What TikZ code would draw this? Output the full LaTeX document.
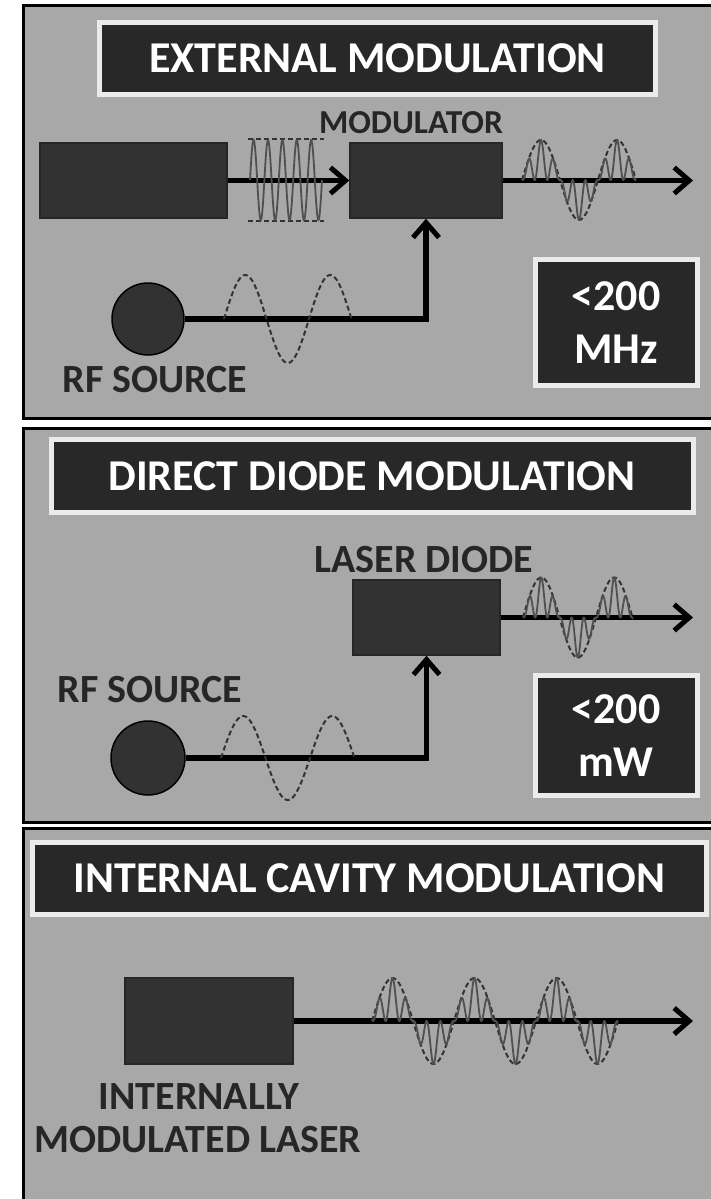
\documentclass[tikz,border=0pt]{standalone}
\usepackage{fontspec}
\setmainfont{Carlito}
\usetikzlibrary{arrows.meta}
\definecolor{panelgray}{RGB}{168,168,168}
\definecolor{boxgray}{RGB}{50,50,50}
\definecolor{wavegray}{RGB}{80,80,80}

\begin{document}
\begin{tikzpicture}[x=1pt,y=-1pt,
  >={Straight Barb[length=15pt,width=26pt,line width=5pt]},
  panel/.style={draw=black,line width=3pt,fill=panelgray},
  ttl/.style={draw=white!92!black,line width=5pt,fill=boxgray!80!black,text=white,
    font=\bfseries\fontsize{44}{48}\selectfont,inner sep=0pt},
  blk/.style={draw=black!85,line width=1.5pt,fill=boxgray,inner sep=0pt},
  src/.style={circle,draw=black,line width=1.5pt,fill=boxgray,minimum size=72pt,inner sep=0pt},
  lbl/.style={text=black!85,font=\bfseries\fontsize{40}{42}\selectfont,inner sep=0pt},
  val/.style={draw=white!92!black,line width=5pt,fill=boxgray!80!black,text=white,
    font=\bfseries\fontsize{44}{53}\selectfont,align=center,inner sep=0pt},
  sig/.style={line width=5.5pt,black},
  env/.style={dash pattern=on 5pt off 3pt,line width=2pt,black!80},
  car/.style={line width=1.8pt,wavegray}]

  \useasboundingbox (0,0) rectangle (711,1199);
  \clip (0,0) rectangle (711,1199);
  \fill[white] (0,0) rectangle (711,1199);

  \draw[panel] (23,6) rectangle (730,418);
  \draw[panel] (23,428) rectangle (730,822);
  \draw[panel] (23,828) rectangle (730,1230);

  \begin{scope}
    \node[ttl,minimum width=556pt,minimum height=72pt] (t1) at (377.5,58.5) {EXTERNAL MODULATION};
    \node[blk,minimum width=187pt,minimum height=75pt] (lsr) at (133.5,180.5) {};
    \node[blk,minimum width=152pt,minimum height=75pt] (mod) at (426,180.5) {};
    \node[lbl,font=\bfseries\fontsize{33.5}{36}\selectfont] (modl) at (411,123) {MODULATOR};
    \node[src] (rf) at (148,319) {};
    \node[lbl] (rfl) at (155,380) {RF SOURCE};
    \node[val,minimum width=162pt,minimum height=126pt] (mhz) at (616,322.5) {<200\\MHz};
    \coordinate (o1) at (693,180.5);
    \draw[sig,->] (lsr) -- (mod);
    \draw[sig,->] (mod) -- (o1);
    \draw[sig,->] (rf) -| (mod);
    \draw[env] (248,139) -- (324,139) (248,221) -- (324,221);
    \draw[car] plot[domain=250:322,samples=160] (\x,{180-40*sin((\x-250)/14.4*360)});
    \draw[env] plot[domain=522:636,samples=120] (\x,{180-40*sin((\x-522)/76*360)});
    \draw[car] plot[domain=522:636,samples=300]
      (\x,{180-40*sin((\x-522)/76*360)*(0.5-0.5*cos((\x-522)/12.67*360))});
    \draw[env] plot[domain=224:352,samples=100] (\x,{319-44*sin((\x-224)/85*360)});
  \end{scope}

  \begin{scope}
    \node[ttl,minimum width=642pt,minimum height=73pt] (t2) at (372,476) {DIRECT DIODE MODULATION};
    \node[blk,minimum width=147pt,minimum height=75pt] (ld) at (426.5,617.5) {};
    \node[lbl] (ldl) at (424,560) {LASER DIODE};
    \node[src,minimum size=74pt] (rf2) at (148,758) {};
    \node[lbl] (rfl2) at (150,690) {RF SOURCE};
    \node[val,minimum width=162pt,minimum height=120pt] (mw) at (616,735.5) {<200\\mW};
    \coordinate (o2) at (693,617.5);
    \draw[sig,->] (ld) -- (o2);
    \draw[sig,->] (rf2) -| (ld);
    \draw[env] plot[domain=523:633,samples=120] (\x,{617.5-40*sin((\x-523)/73*360)});
    \draw[car] plot[domain=523:633,samples=300]
      (\x,{617.5-40*sin((\x-523)/73*360)*(0.5-0.5*cos((\x-523)/12.17*360))});
    \draw[env] plot[domain=221:354,samples=100] (\x,{758-42*sin((\x-221)/89*360)});
  \end{scope}

  \begin{scope}
    \node[ttl,minimum width=674pt,minimum height=72pt] (t3) at (369.5,878.5) {INTERNAL CAVITY MODULATION};
    \node[blk,minimum width=168pt,minimum height=86pt] (iml) at (209,1021) {};
    \node[lbl] (imll) at (199,1097) {INTERNALLY};
    \node[lbl] (imll2) at (198,1140) {MODULATED LASER};
    \coordinate (o3) at (693,1021);
    \draw[sig,->] (iml) -- (o3);
    \draw[env] plot[domain=372:618,samples=200] (\x,{1021-43*sin((\x-372)/82*360)});
    \draw[car] plot[domain=372:618,samples=500]
      (\x,{1021-43*sin((\x-372)/82*360)*(0.5-0.5*cos((\x-372)/13.67*360))});
  \end{scope}
\end{tikzpicture}
\end{document}
